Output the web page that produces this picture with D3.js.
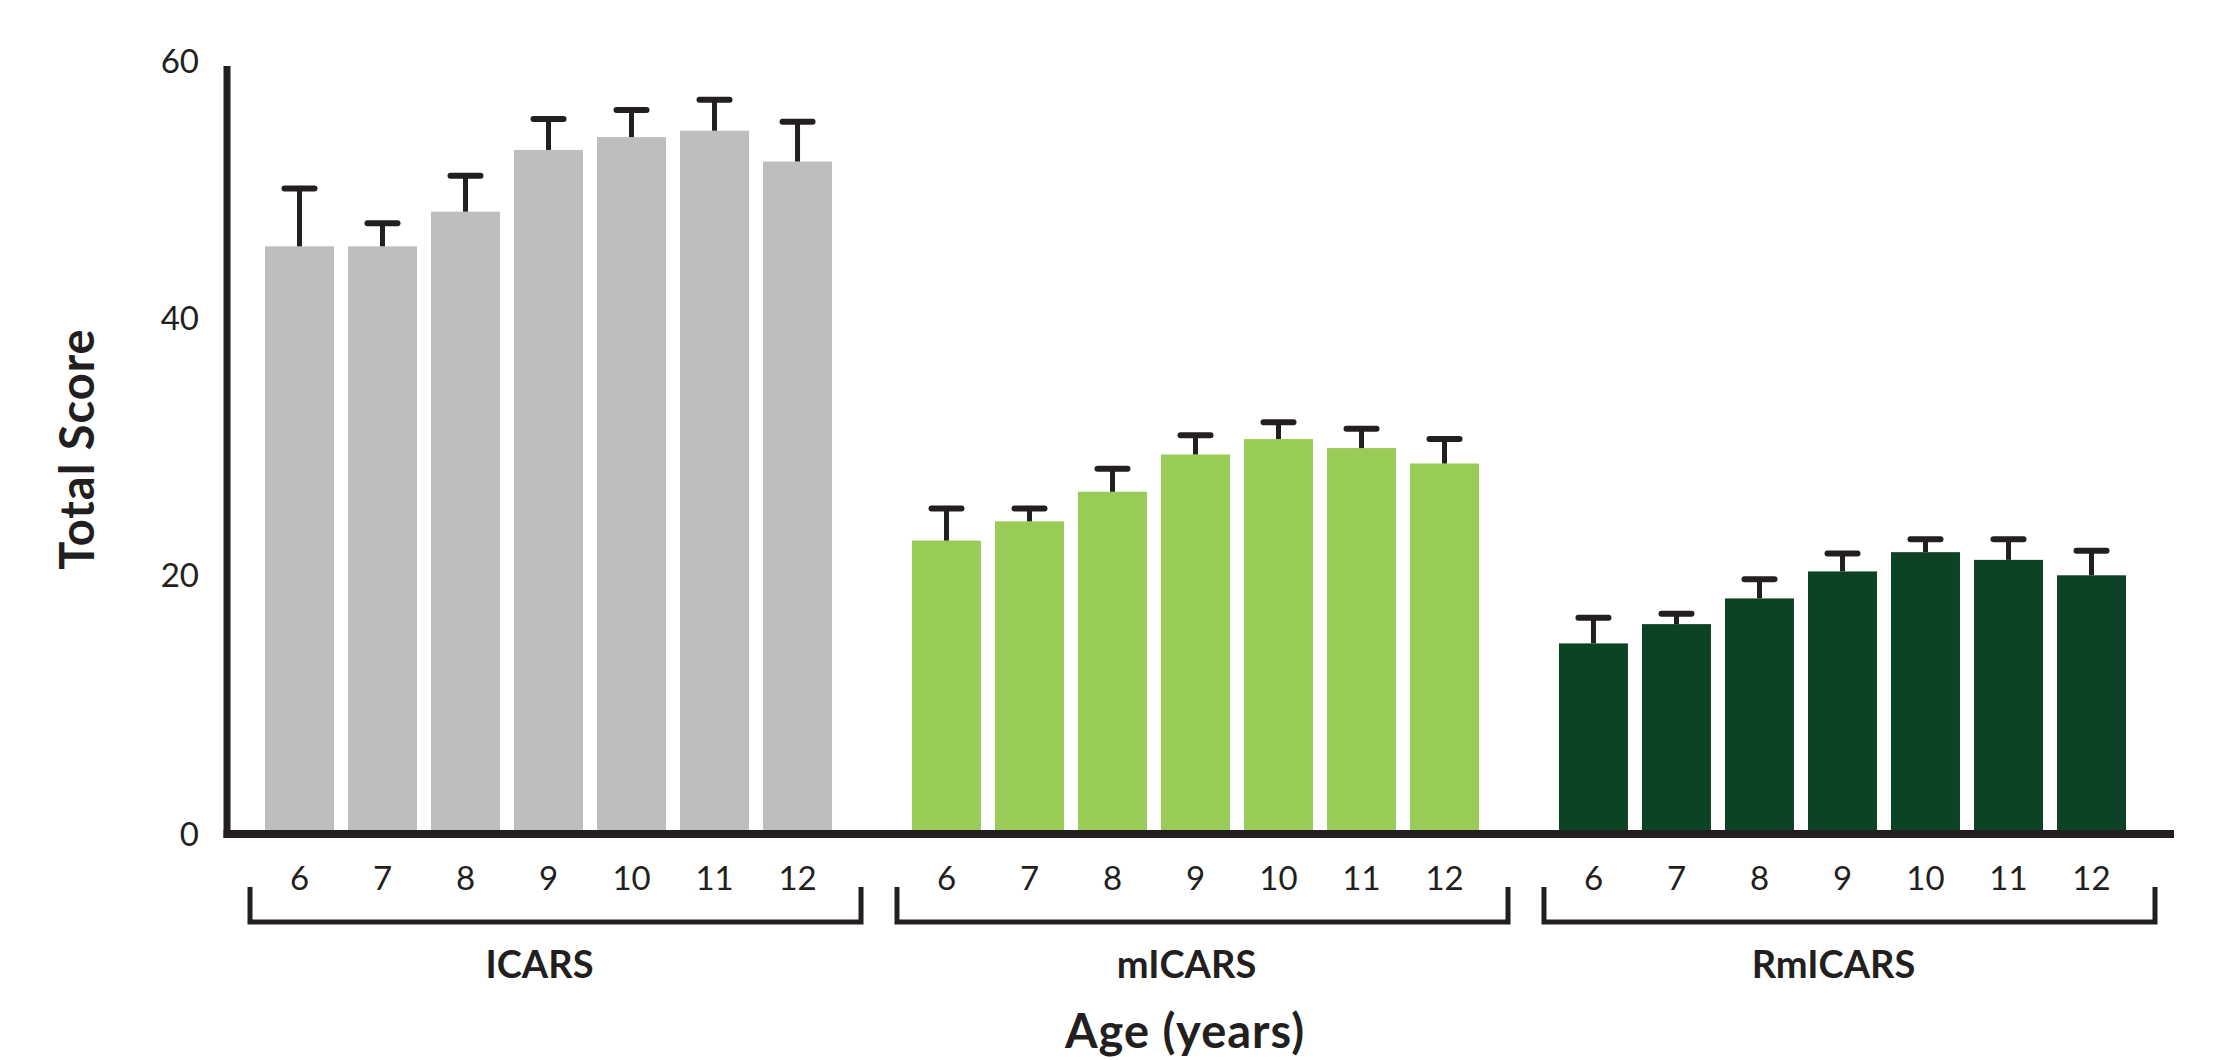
<!DOCTYPE html>
<head>
<meta charset="utf-8">
<style>
body { margin: 0; background: #fff; }
text { font-family: Lato, "Open Sans", sans-serif; fill: #231f20; }
</style>
</head>
<body>
<script src="https://cdnjs.cloudflare.com/ajax/libs/d3/7.8.5/d3.min.js"></script>
<script>

var width = 2214,
    height = 1060;

// data
var groups = ['ICARS', 'mICARS', 'RmICARS'];
var ages = ['6', '7', '8', '9', '10', '11', '12'];
var colors = ['#bcbec0', '#99cb57', '#0d4325'];

var icarsMean   = [45.5, 45.5, 48.2, 53.0, 54.0, 54.5, 52.1];
var icarsSd     = [4.5, 1.8, 2.8, 2.4, 2.1, 2.4, 3.1];
var micarsMean  = [22.6, 24.1, 26.4, 29.3, 30.5, 29.8, 28.6];
var micarsSd    = [2.5, 1.0, 1.8, 1.5, 1.3, 1.5, 1.9];
var rmicarsMean = [14.6, 16.1, 18.1, 20.2, 21.7, 21.1, 19.9];
var rmicarsSd   = [2.0, 0.8, 1.5, 1.4, 1.0, 1.6, 1.9];

var yTicks = [0, 20, 40, 60];

var means = [icarsMean, micarsMean, rmicarsMean];
var sds = [icarsSd, micarsSd, rmicarsSd];

var rows = [];
groups.forEach(function(g, gi) {
  ages.forEach(function(a, ai) {
    rows.push({ group: g, age: a, mean: means[gi][ai], sd: sds[gi][ai], color: colors[gi] });
  });
});

var axisX = 227,
    axisRight = 2174;

var y = d3.scaleLinear().domain([0, 60]).range([831, 60]);

var x0 = d3.scaleBand()
    .domain(groups)
    .range([265, 2126])
    .paddingInner(0.1236)
    .paddingOuter(0);

var x1 = d3.scaleBand()
    .domain(ages)
    .range([0, x0.bandwidth()])
    .paddingInner(0.169)
    .paddingOuter(0);

var svg = d3.select('body').append('svg')
    .attr('width', width)
    .attr('height', height);

// bars
svg.append('g').selectAll('rect')
  .data(rows)
  .enter().append('rect')
    .attr('x', function(d) { return x0(d.group) + x1(d.age); })
    .attr('y', function(d) { return y(d.mean); })
    .attr('width', x1.bandwidth())
    .attr('height', function(d) { return y(0) - y(d.mean); })
    .attr('fill', function(d) { return d.color; });

// error bars (upper only)
var err = svg.append('g').selectAll('g')
  .data(rows)
  .enter().append('g')
    .attr('transform', function(d) {
      return 'translate(' + (x0(d.group) + x1(d.age) + x1.bandwidth() / 2) + ',0)';
    });

err.append('line')
    .attr('y1', function(d) { return y(d.mean); })
    .attr('y2', function(d) { return y(d.mean + d.sd); })
    .attr('stroke', '#231f20')
    .attr('stroke-width', 5);

err.append('line')
    .attr('x1', -15).attr('x2', 15)
    .attr('y1', function(d) { return y(d.mean + d.sd); })
    .attr('y2', function(d) { return y(d.mean + d.sd); })
    .attr('stroke', '#231f20')
    .attr('stroke-width', 6)
    .attr('stroke-linecap', 'round');

// axes
svg.append('line')
    .attr('x1', axisX).attr('x2', axisX)
    .attr('y1', 66).attr('y2', 838)
    .attr('stroke', '#231f20')
    .attr('stroke-width', 7);

svg.append('line')
    .attr('x1', axisX - 3.5).attr('x2', axisRight)
    .attr('y1', 834).attr('y2', 834)
    .attr('stroke', '#231f20')
    .attr('stroke-width', 8);

svg.append('g').selectAll('text')
  .data(yTicks)
  .enter().append('text')
    .attr('x', 199)
    .attr('y', function(d) { return y(d) + (d === 0 ? 2 : 0); })
    .attr('text-anchor', 'end')
    .attr('dominant-baseline', 'central')
    .style('font-size', '33px')
    .text(function(d) { return d; });

// age labels
svg.append('g').selectAll('text')
  .data(rows)
  .enter().append('text')
    .attr('x', function(d) { return x0(d.group) + x1(d.age) + x1.bandwidth() / 2; })
    .attr('y', 877)
    .attr('text-anchor', 'middle')
    .attr('dominant-baseline', 'central')
    .style('font-size', '33px')
    .text(function(d) { return d.age; });

// brackets
svg.append('g').selectAll('path')
  .data(groups)
  .enter().append('path')
    .attr('d', function(g) {
      var l = x0(g) - 15, r = x0(g) + x0.bandwidth() + 29;
      return 'M' + l + ',887V922H' + r + 'V887';
    })
    .attr('fill', 'none')
    .attr('stroke', '#231f20')
    .attr('stroke-width', 5);

svg.append('g').selectAll('text')
  .data(groups)
  .enter().append('text')
    .attr('x', function(g) { return x0(g) + x0.bandwidth() / 2 - 9; })
    .attr('y', 963)
    .attr('text-anchor', 'middle')
    .attr('dominant-baseline', 'central')
    .style('font-size', '38px')
    .style('font-weight', 'bold')
    .text(function(g) { return g; });

// axis titles
svg.append('text')
    .attr('x', 1185)
    .attr('y', 1048)
    .attr('text-anchor', 'middle')
    .style('font-size', '47px')
    .style('font-weight', 'bold')
    .style('letter-spacing', '1px')
    .text('Age (years)');

svg.append('text')
    .attr('transform', 'translate(76,449) rotate(-90)')
    .attr('text-anchor', 'middle')
    .attr('dominant-baseline', 'central')
    .style('font-size', '47px')
    .style('font-weight', 'bold')
    .style('letter-spacing', '1px')
    .text('Total Score');

</script>
</body>
</html>
